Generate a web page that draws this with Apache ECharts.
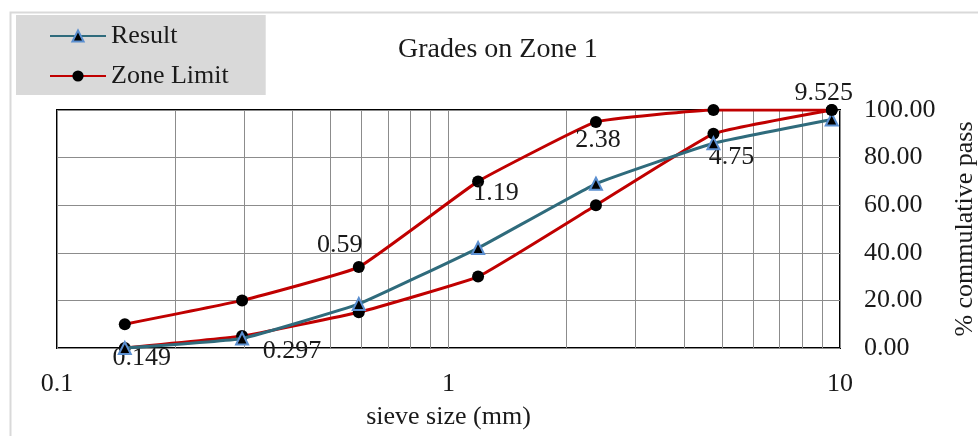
<!DOCTYPE html>
<html>
<head>
<meta charset="utf-8">
<script src="https://cdn.jsdelivr.net/npm/echarts@6/dist/echarts.min.js"></script>
<style>
html,body{margin:0;padding:0;background:#fff;}
#chart{width:978px;height:436px;}
</style>
</head>
<body>
<div id="chart"></div>
<script>
// ---- data ----
const sieveSizes = [0.149, 0.297, 0.59, 1.19, 2.38, 4.75, 9.525];
const sieveLabels = ['0.149', '0.297', '0.59', '1.19', '2.38', '4.75', '9.525'];
const resultPass = [0, 4, 18.5, 42, 69, 86, 96];
const zoneUpper = [10, 20, 34, 70, 95, 100, 100];
const zoneLower = [0, 5, 15, 30, 60, 90, 100];
const xTickLabels = ['0.1', '1', '10'];
const minorGridX = [0.2, 0.3, 0.4, 0.5, 0.6, 0.7, 0.8, 0.9, 2, 3, 4, 5, 6, 7, 8, 9];

// ---- label placement (style) ----
const labelHost = ['lower', 'lower', 'upper', 'upper', 'upper', 'lower', 'upper'];
const labelOffset = [[17, 10], [50, 15], [-19, -22], [18, 12], [2, 18], [18, 23], [-8, -17]];

const FONT = 'Liberation Serif';
const TXT = '#1a1a1a';
const RED = '#C00000';
const TEAL = '#2F6B7C';

function zoneData(values, host) {
  return sieveSizes.map((s, i) => {
    const item = { value: [s, values[i]] };
    if (labelHost[i] === host) {
      item.label = {
        show: true,
        position: 'inside',
        offset: labelOffset[i],
        formatter: sieveLabels[i],
        fontFamily: FONT, fontSize: 26, color: TXT
      };
    }
    return item;
  });
}

const chart = echarts.init(document.getElementById('chart'));
chart.setOption({
  animation: false,
  backgroundColor: '#fff',
  graphic: [{
    type: 'rect', left: 8, top: 10, z: -10,
    shape: { width: 1000, height: 500 },
    style: { fill: 'none', stroke: '#D9D9D9', lineWidth: 2 }
  }],
  title: {
    text: 'Grades on Zone 1',
    left: 393, top: 31,
    textStyle: { fontFamily: FONT, fontSize: 28, fontWeight: 'normal', color: TXT }
  },
  legend: {
    data: ['Result', 'Zone Limit'],
    orient: 'vertical',
    left: 16, top: 15,
    padding: [8, 37, 6, 33],
    backgroundColor: '#D9D9D9',
    itemWidth: 56, itemHeight: 14, itemGap: 14,
    textStyle: { fontFamily: FONT, fontSize: 26, color: TXT, lineHeight: 26 }
  },
  grid: {
    left: 57, right: 138, top: 110, bottom: 88,
    outerBoundsMode: 'none', containLabel: false,
    show: true, borderColor: '#000', borderWidth: 2, backgroundColor: 'transparent'
  },
  xAxis: {
    type: 'log', logBase: 10, min: 0.1, max: 10,
    name: 'sieve size (mm)', nameLocation: 'middle', nameGap: 56,
    nameTextStyle: { fontFamily: FONT, fontSize: 26, color: TXT },
    axisLine: { show: false },
    axisTick: { show: false },
    axisLabel: {
      margin: 23, fontFamily: FONT, fontSize: 26, color: TXT,
      formatter: function (v) {
        const idx = Math.round(Math.log10(v)) + 1;
        return xTickLabels[idx] !== undefined ? xTickLabels[idx] : String(v);
      }
    },
    splitLine: { show: true, lineStyle: { color: '#8c8c8c', width: 1 } }
  },
  yAxis: {
    type: 'value', position: 'right', min: 0, max: 100, interval: 20,
    name: '% commulative pass', nameLocation: 'middle', nameGap: 112, nameRotate: 90,
    nameTextStyle: { fontFamily: FONT, fontSize: 26, color: TXT },
    axisLine: { show: false },
    axisTick: { show: false },
    axisLabel: {
      margin: 24, fontFamily: FONT, fontSize: 26, color: TXT, align: 'left',
      formatter: v => v.toFixed(2)
    },
    splitLine: { show: true, lineStyle: { color: '#8c8c8c', width: 1 } }
  },
  series: [
    {
      name: 'grid-minor', type: 'line', data: [], silent: true, z: 1,
      markLine: {
        silent: true, z: 1, symbol: ['none', 'none'], animation: false,
        label: { show: false },
        lineStyle: { color: '#8c8c8c', width: 1, type: 'solid' },
        emphasis: { disabled: true },
        data: minorGridX.map(v => ({ xAxis: v }))
      }
    },
    {
      name: 'Zone Limit', type: 'line', z: 3,
      data: zoneData(zoneLower, 'lower'),
      smooth: 0.1,
      symbol: 'circle', symbolSize: 12,
      lineStyle: { color: RED, width: 3 },
      itemStyle: { color: '#000', borderColor: '#000', borderWidth: 0 },
      label: { show: false }
    },
    {
      name: 'Result', type: 'line', z: 4,
      data: sieveSizes.map((s, i) => [s, resultPass[i]]),
      smooth: 0.1,
      symbol: 'triangle', symbolSize: 12,
      lineStyle: { color: TEAL, width: 3 },
      itemStyle: { color: '#000', borderColor: '#5B8FD0', borderWidth: 2 }
    },
    {
      name: 'Zone Limit', type: 'line', z: 5,
      data: zoneData(zoneUpper, 'upper'),
      smooth: 0.1,
      symbol: 'circle', symbolSize: 12,
      lineStyle: { color: RED, width: 3 },
      itemStyle: { color: '#000', borderColor: '#000', borderWidth: 0 },
      label: { show: false }
    }
  ]
});
</script>
</body>
</html>
